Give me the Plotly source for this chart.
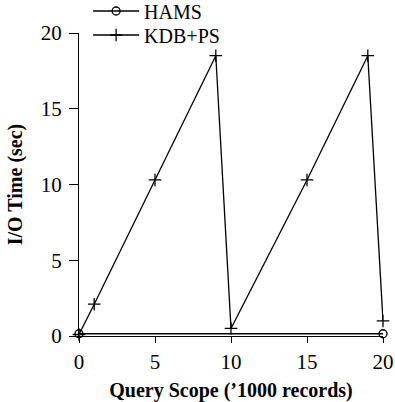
import plotly.graph_objects as go

hams_x = [0, 20]
hams_y = [0.15, 0.15]
kdb_x = [0, 1, 5, 9, 10, 15, 19, 20]
kdb_y = [0.1, 2.1, 10.3, 18.5, 0.5, 10.3, 18.5, 1.0]
x_ticks = [0, 5, 10, 15, 20]
y_ticks = [0, 5, 10, 15, 20]

FONT = "Liberation Serif"

fig = go.Figure()
fig.add_trace(go.Scatter(
    x=hams_x, y=hams_y, name="HAMS", mode="lines+markers", legend="legend",
    line=dict(color="black", width=1.4),
    marker=dict(symbol="circle-open", size=8, color="black", line=dict(width=1.3)),
))
fig.add_trace(go.Scatter(
    x=kdb_x, y=kdb_y, name="KDB+PS", mode="lines+markers", legend="legend2",
    line=dict(color="black", width=1.3),
    marker=dict(symbol="cross-thin", size=9, color="black", line=dict(width=1.3, color="black")),
))

leg_common = dict(xref="paper", yref="container", xanchor="left", yanchor="middle",
                  bgcolor="rgba(0,0,0,0)", font=dict(family=FONT, size=20), itemwidth=46)

fig.update_layout(
    width=395, height=402,
    margin=dict(l=79, r=12, t=33, b=66, autoexpand=False),
    paper_bgcolor="white", plot_bgcolor="white",
    font=dict(family=FONT, size=20, color="black"),
    showlegend=True,
    legend=dict(x=0.03, y=1 - 11 / 402, **leg_common),
    legend2=dict(x=0.03, y=1 - 35 / 402, **leg_common),
    xaxis=dict(
        range=[0, 20], tickvals=x_ticks, ticks="outside", ticklen=6, tickwidth=1.3,
        tickcolor="black", showline=True, linecolor="black", linewidth=1.3,
        showgrid=False, zeroline=False, ticklabelstandoff=1,
        tickfont=dict(family=FONT, size=21),
        title=dict(text="<b>Query Scope (’1000 records)</b>", font=dict(family=FONT, size=20), standoff=9),
    ),
    yaxis=dict(
        range=[0, 20], tickvals=y_ticks, ticks="outside", ticklen=9, tickwidth=1.3,
        tickcolor="black", showline=True, linecolor="black", linewidth=1.3,
        showgrid=False, zeroline=False, ticklabelstandoff=3,
        tickfont=dict(family=FONT, size=21),
        title=dict(text="<b>I/O Time (sec)</b>", font=dict(family=FONT, size=20), standoff=12),
    ),
)
fig.update_traces(cliponaxis=False)

fig.write_html("out.html")
